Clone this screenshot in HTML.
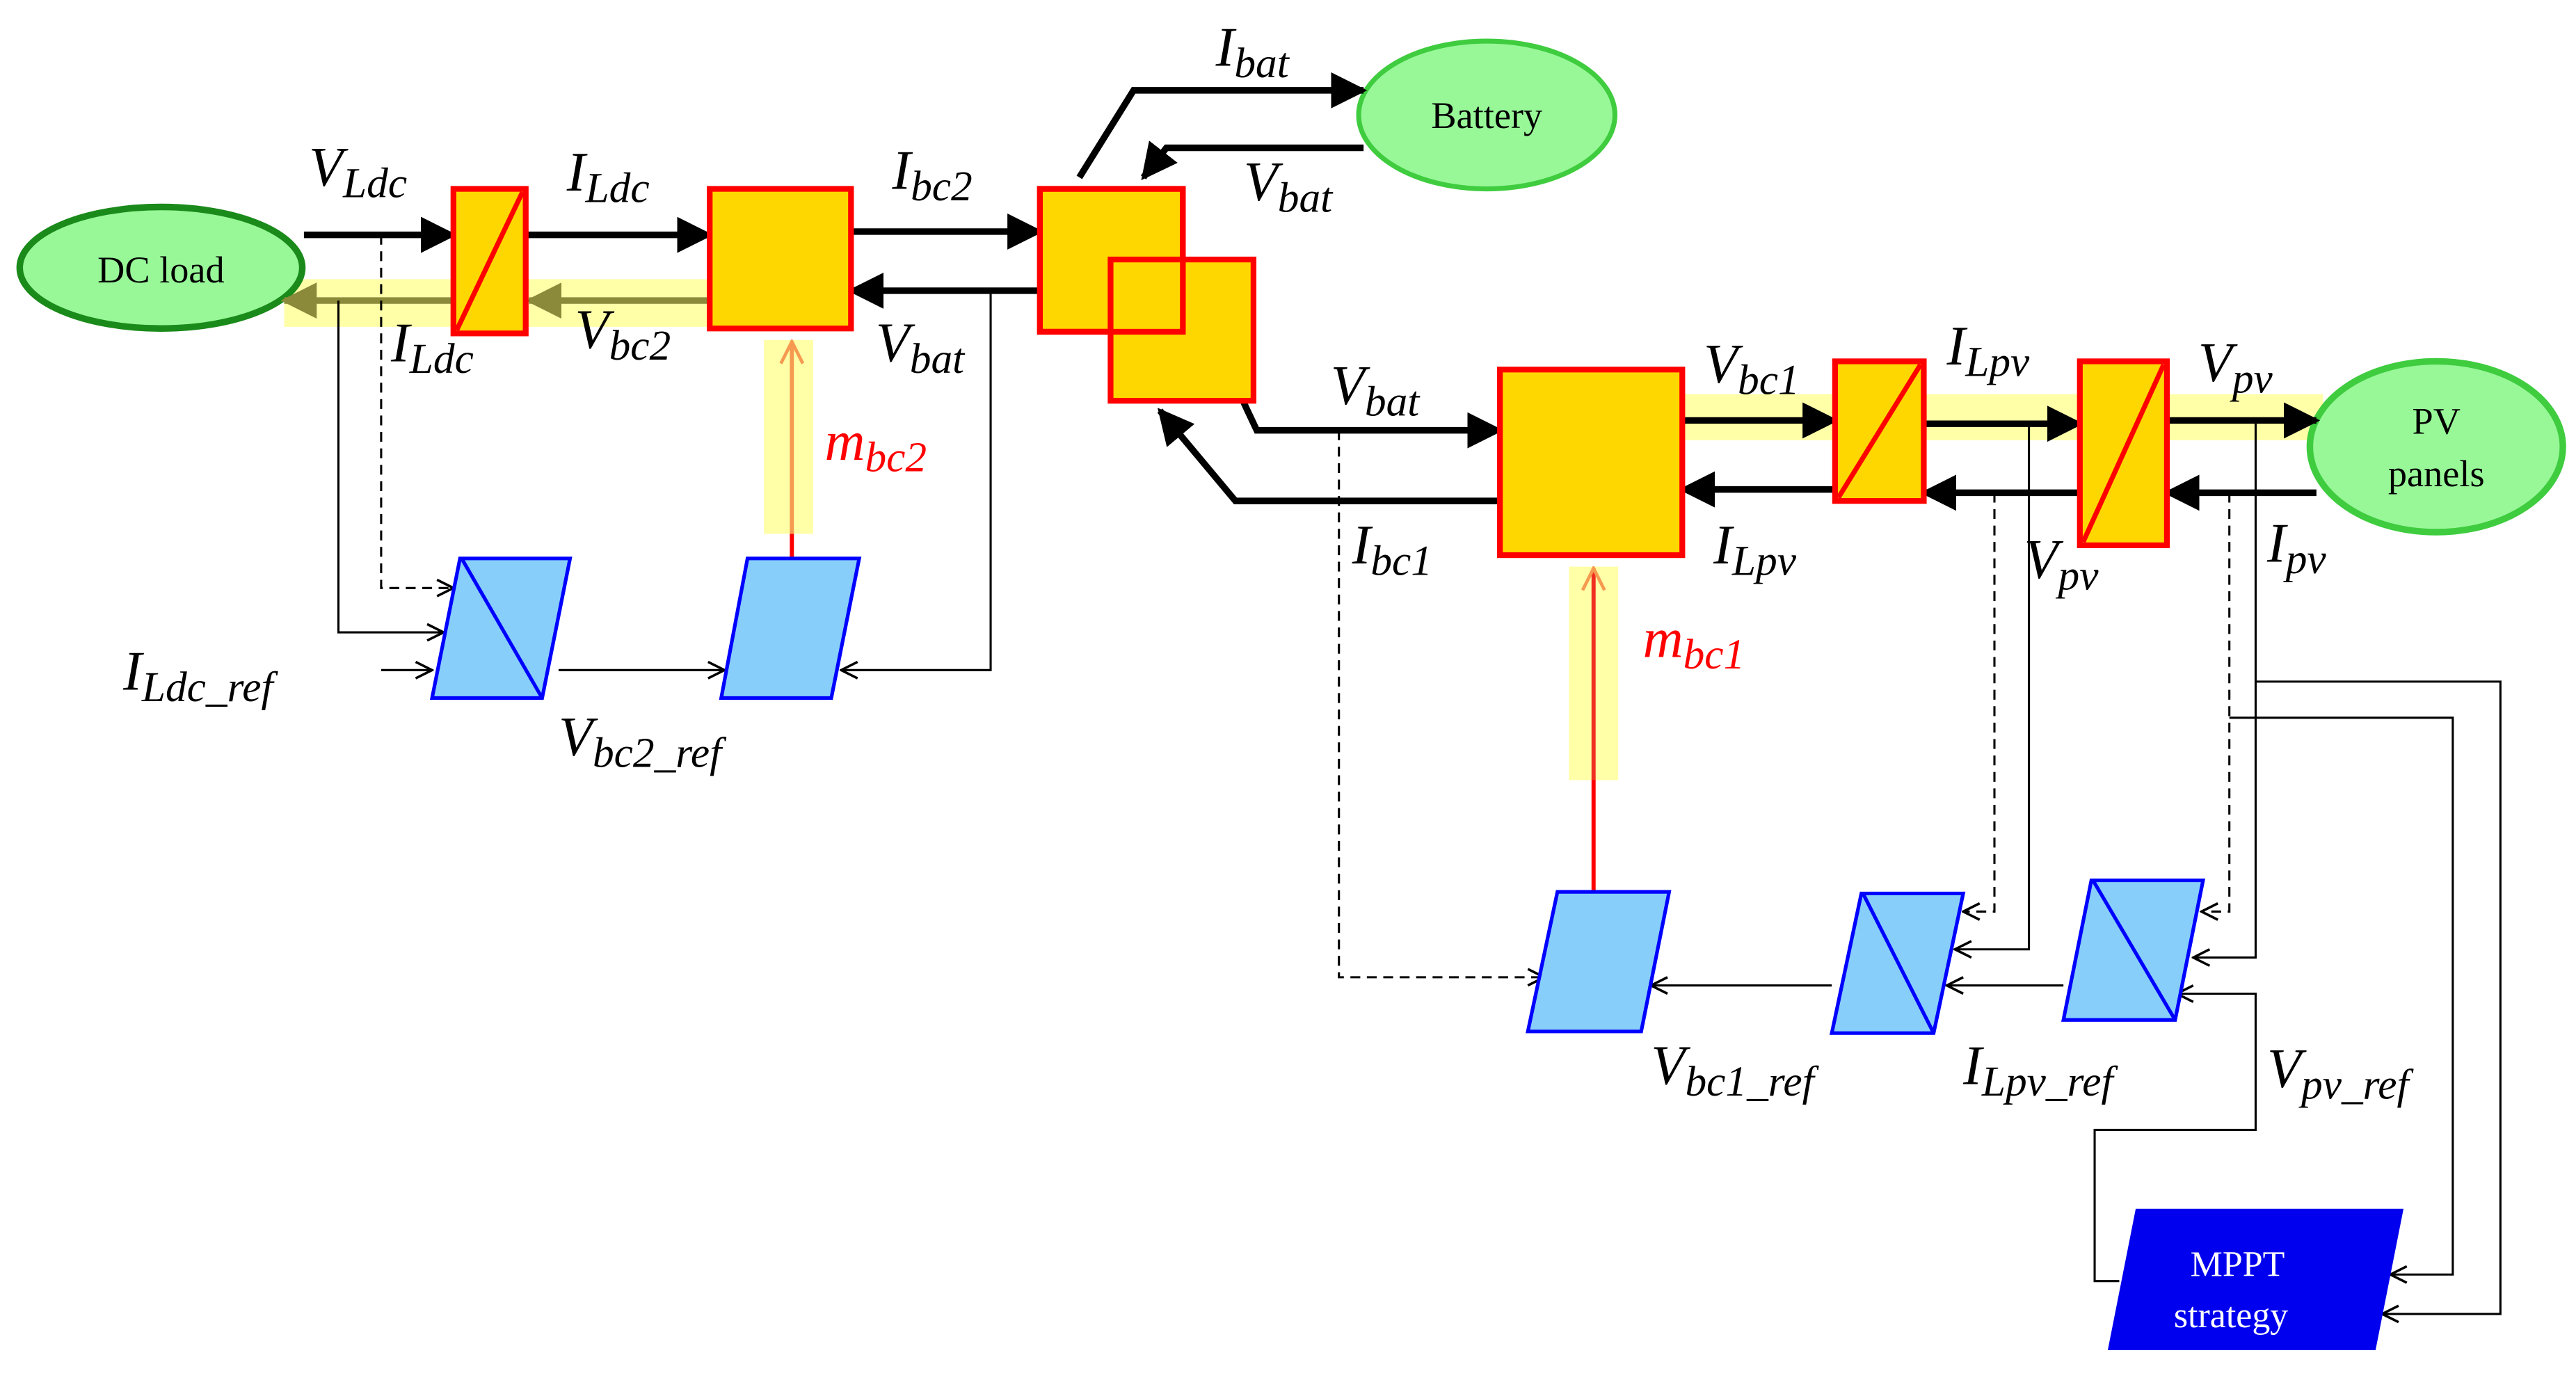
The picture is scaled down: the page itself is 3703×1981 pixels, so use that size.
<!DOCTYPE html>
<html><head><meta charset="utf-8"><style>html,body{margin:0;padding:0;background:#fff}svg{display:block}text{font-family:"Liberation Serif",serif}</style></head>
<body>
<svg width="3703" height="1981" viewBox="0 0 1568 839" preserveAspectRatio="none" xmlns="http://www.w3.org/2000/svg">
<defs>
<marker id="ab" viewBox="0 0 10 10" refX="9" refY="5" markerWidth="5.5" markerHeight="5.5" orient="auto"><path d="M0,0 L10,5 L0,10 z" fill="#000"/></marker>
<marker id="ao" viewBox="0 0 10 10" refX="9" refY="5" markerWidth="5.5" markerHeight="5.5" orient="auto"><path d="M0,0 L10,5 L0,10 z" fill="#8a8a3a"/></marker>
<marker id="ot" viewBox="0 0 12 12" refX="11" refY="6" markerWidth="12" markerHeight="12" markerUnits="userSpaceOnUse" orient="auto"><path d="M1,1 L11,6 L1,11" fill="none" stroke="#000" stroke-width="1.5"/></marker>
<marker id="or" viewBox="0 0 12 12" refX="11" refY="6" markerWidth="16" markerHeight="16" markerUnits="userSpaceOnUse" orient="auto"><path d="M1,1 L11,6 L1,11" fill="none" stroke="#f59a50" stroke-width="1.5"/></marker>
</defs>
<g style="font-family:'Liberation Serif',serif;font-style:italic">
<rect x="173" y="170" width="259" height="29" fill="#ffffa8"/>
<rect x="465" y="207" width="30" height="118" fill="#ffffa8"/>
<rect x="955" y="345" width="30" height="130" fill="#ffffa8"/>
<rect x="1024" y="240" width="390" height="28" fill="#ffffa8"/>

<ellipse cx="98" cy="163" rx="86" ry="37" fill="#98f898" stroke="#1a8a1a" stroke-width="4"/>
<text x="98" y="172" style="font-style:normal" font-size="23" text-anchor="middle">DC load</text>
<ellipse cx="905" cy="70" rx="78" ry="45" fill="#98f898" stroke="#3fcc3f" stroke-width="3"/>
<text x="905" y="78" style="font-style:normal" font-size="23" text-anchor="middle">Battery</text>
<ellipse cx="1483" cy="272" rx="77" ry="52" fill="#98f898" stroke="#3fcc3f" stroke-width="4"/>
<text x="1483" y="264" style="font-style:normal" font-size="23" text-anchor="middle">PV</text>
<text x="1483" y="296" style="font-style:normal" font-size="23" text-anchor="middle">panels</text>

<g stroke="#000" stroke-width="4" fill="none">
<line x1="185" y1="143" x2="276" y2="143" marker-end="url(#ab)"/>
<line x1="320" y1="143" x2="432" y2="143" marker-end="url(#ab)"/>
<line x1="518" y1="141" x2="633" y2="141" marker-end="url(#ab)"/>
<line x1="633" y1="177" x2="518" y2="177" marker-end="url(#ab)"/>
<polyline points="657,108 690,55 830,55" marker-end="url(#ab)"/>
<polyline points="830,90 710,90 696,108" marker-end="url(#ab)"/>
<polyline points="757,245 765,262 913,262" marker-end="url(#ab)"/>
<polyline points="913,305 752,305 706,250" marker-end="url(#ab)"/>
<line x1="1024" y1="256" x2="1117" y2="256" marker-end="url(#ab)"/>
<line x1="1171" y1="258" x2="1266" y2="258" marker-end="url(#ab)"/>
<line x1="1319" y1="256" x2="1410" y2="256" marker-end="url(#ab)"/>
<line x1="1117" y1="298" x2="1024" y2="298" marker-end="url(#ab)"/>
<line x1="1266" y1="300" x2="1171" y2="300" marker-end="url(#ab)"/>
<line x1="1410" y1="300" x2="1319" y2="300" marker-end="url(#ab)"/>
</g>
<g stroke="#8a8a3a" stroke-width="4">
<line x1="276" y1="183" x2="173" y2="183" marker-end="url(#ao)"/>
<line x1="432" y1="183" x2="322" y2="183" marker-end="url(#ao)"/>
</g>

<g fill="#ffd700" stroke="#f00" stroke-width="3.5">
<rect x="276" y="115" width="44" height="88"/>
<rect x="432" y="115" width="86" height="85"/>
<rect x="633" y="115" width="87" height="87"/>
<rect x="676" y="158" width="87" height="86"/>
<rect x="913" y="225" width="111" height="113"/>
<rect x="1117" y="220" width="54" height="85"/>
<rect x="1266" y="220" width="53" height="112"/>
</g>
<rect x="633" y="115" width="87" height="87" fill="none" stroke="#f00" stroke-width="3.5"/>
<g stroke="#f00" stroke-width="3">
<line x1="278" y1="201" x2="318" y2="117"/>
<line x1="1119" y1="303" x2="1169" y2="222"/>
<line x1="1268" y1="330" x2="1317" y2="222"/>
</g>

<g stroke="#000" stroke-width="1.3" fill="none">
<polyline points="232,143 232,358 276,358" stroke-dasharray="6,4" marker-end="url(#ot)"/>
<polyline points="206,183 206,385 270,385" marker-end="url(#ot)"/>
<line x1="232" y1="408" x2="263" y2="408" marker-end="url(#ot)"/>
<line x1="340" y1="408" x2="441" y2="408" marker-end="url(#ot)"/>
<polyline points="603,177 603,408 512,408" marker-end="url(#ot)"/>
<polyline points="815,262 815,595 940,595" stroke-dasharray="6,4" marker-end="url(#ot)"/>
<line x1="1115" y1="600" x2="1005" y2="600" marker-end="url(#ot)"/>
<line x1="1256" y1="600" x2="1185" y2="600" marker-end="url(#ot)"/>
<polyline points="1214,300 1214,555 1195,555" stroke-dasharray="6,4" marker-end="url(#ot)"/>
<polyline points="1235,258 1235,578 1190,578" marker-end="url(#ot)"/>
<polyline points="1357,300 1357,555 1340,555" stroke-dasharray="6,4" marker-end="url(#ot)"/>
<polyline points="1373,258 1373,583 1335,583" marker-end="url(#ot)"/>
<polyline points="1290,780 1275,780 1275,688 1373,688 1373,605 1325,605" marker-end="url(#ot)"/>
<polyline points="1373,415 1522,415 1522,800 1450,800" marker-end="url(#ot)"/>
<polyline points="1357,437 1493,437 1493,776 1455,776" marker-end="url(#ot)"/>
</g>
<g stroke="#f00" stroke-width="2.5">
<line x1="482" y1="340" x2="482" y2="325"/>
<line x1="970" y1="543" x2="970" y2="475"/>
</g>
<g stroke="#f59a50" stroke-width="2.5">
<line x1="482" y1="325" x2="482" y2="208" marker-end="url(#or)"/>
<line x1="970" y1="475" x2="970" y2="346" stroke="#f03020" marker-end="url(#or)"/>
</g>

<g fill="#87cefa" stroke="#0000ff" stroke-width="2.2">
<polygon points="280,340 347,340 330,425 263,425"/>
<line x1="281" y1="340" x2="330" y2="425"/>
<polygon points="455,340 523,340 506,425 439,425"/>
<polygon points="948,543 1016,543 999,628 930,628"/>
<polygon points="1133,544 1195,544 1177,629 1115,629"/>
<line x1="1134" y1="544" x2="1177" y2="629"/>
<polygon points="1273,536 1341,536 1324,621 1256,621"/>
<line x1="1274" y1="536" x2="1324" y2="621"/>
</g>
<polygon points="1300,736 1463,736 1446,822 1283,822" fill="#0000ee"/>
<text x="1362" y="777" style="font-style:normal" font-size="22" fill="#fff" text-anchor="middle">MPPT</text>
<text x="1358" y="808" style="font-style:normal" font-size="22" fill="#fff" text-anchor="middle">strategy</text>

<g font-size="34">
<text x="188" y="113">V<tspan font-size="26" dy="7">Ldc</tspan></text>
<text x="345" y="116">I<tspan font-size="26" dy="7">Ldc</tspan></text>
<text x="543" y="115">I<tspan font-size="26" dy="7">bc2</tspan></text>
<text x="740" y="40">I<tspan font-size="26" dy="7">bat</tspan></text>
<text x="757" y="122">V<tspan font-size="26" dy="7">bat</tspan></text>
<text x="238" y="220">I<tspan font-size="26" dy="7">Ldc</tspan></text>
<text x="350" y="212">V<tspan font-size="26" dy="7">bc2</tspan></text>
<text x="533" y="220">V<tspan font-size="26" dy="7">bat</tspan></text>
<text x="502" y="280" fill="#f00">m<tspan font-size="26" dy="7">bc2</tspan></text>
<text x="75" y="420">I<tspan font-size="26" dy="7">Ldc_ref</tspan></text>
<text x="340" y="460">V<tspan font-size="26" dy="7">bc2_ref</tspan></text>
<text x="810" y="246">V<tspan font-size="26" dy="7">bat</tspan></text>
<text x="823" y="343">I<tspan font-size="26" dy="7">bc1</tspan></text>
<text x="1037" y="233">V<tspan font-size="26" dy="7">bc1</tspan></text>
<text x="1185" y="222">I<tspan font-size="26" dy="7">Lpv</tspan></text>
<text x="1338" y="232">V<tspan font-size="26" dy="7">pv</tspan></text>
<text x="1043" y="343">I<tspan font-size="26" dy="7">Lpv</tspan></text>
<text x="1232" y="352">V<tspan font-size="26" dy="7">pv</tspan></text>
<text x="1380" y="342">I<tspan font-size="26" dy="7">pv</tspan></text>
<text x="1000" y="400" fill="#f00">m<tspan font-size="26" dy="7">bc1</tspan></text>
<text x="1005" y="660">V<tspan font-size="26" dy="7">bc1_ref</tspan></text>
<text x="1195" y="660">I<tspan font-size="26" dy="7">Lpv_ref</tspan></text>
<text x="1380" y="662">V<tspan font-size="26" dy="7">pv_ref</tspan></text>
</g>
</g>
</svg>
</body></html>
